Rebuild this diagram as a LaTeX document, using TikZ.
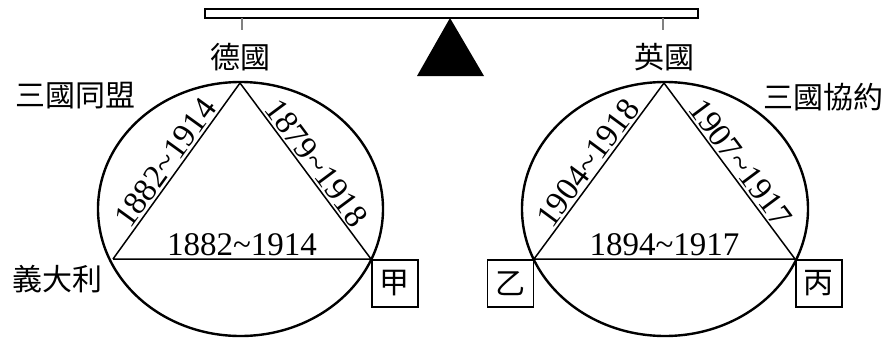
\documentclass[tikz,border=0pt]{standalone}
\usepackage{fontspec}
\setmainfont{Liberation Serif}
\newfontfamily\cjk{Noto Sans CJK TC}
\usepackage{tikz}
\usetikzlibrary{calc}
\usetikzlibrary{positioning}

\begin{document}
\begin{tikzpicture}[x=0.5pt, y=-0.5pt]
 	  \tikzstyle{ring}=[draw, line width=1.2pt]
 	  \tikzstyle{side}=[draw, line width=0.75pt]
 	  \tikzstyle{yr}=[font=\fontsize{16.5}{16.5}\selectfont, inner sep=1pt]
 	  \tikzstyle{ctry}=[font=\cjk\fontsize{15}{15}\selectfont, inner sep=0pt]
 	  \tikzstyle{tag}=[draw, line width=0.75pt, minimum width=23pt, minimum height=23.5pt, inner sep=0pt, font=\cjk\fontsize{15}{15}\selectfont]
\useasboundingbox (0,0) rectangle (890,338);
% balance
\draw[line width=0.75pt, fill=white] (205,9) rectangle (698,18);
\draw[gray, line width=0.75pt] (242,18) -- (242,30);
\draw[gray, line width=0.75pt] (663,18) -- (663,30);
\fill (450,18) -- (484,76) -- (417,76) -- cycle;
% alliance
\draw[ring] (240.5,209) ellipse [x radius=142.5, y radius=127];
    \coordinate (de) at (240,83);
    \coordinate (it) at (113,259);
    \coordinate (jia) at (371,259);
    \draw[side] (it) -- node[yr, above, sloped] {1882\textasciitilde1914} (de)
                     -- node[yr, above, sloped] {1879\textasciitilde1918} (jia)
                     -- node[yr, above] {1882\textasciitilde1914} (it);
    \node[ctry] (deL) at (240,57) {德國};
    \node[ctry] (itL) at (57,279) {義大利};
    \node[ctry] (sanL) at (76,96) {三國同盟};
    \node[tag, anchor=north west] (jiaL) at (jia) {甲};
% entente
\draw[ring] (665,209) ellipse [x radius=143, y radius=127];
    \coordinate (uk) at (664,83);
    \coordinate (yi) at (534,259);
    \coordinate (bing) at (795,259);
    \draw[side] (yi) -- node[yr, above, sloped] {1904\textasciitilde1918} (uk)
                     -- node[yr, above, sloped] {1907\textasciitilde1917} (bing)
                     -- node[yr, above] {1894\textasciitilde1917} (yi);
    \node[ctry] (ukL) at (664,57) {英國};
    \node[ctry] (xieL) at (823,97) {三國協約};
    \node[tag, anchor=north east] (yiL) at (yi) {乙};
    \node[tag, anchor=north west] (bingL) at (bing) {丙};
   \end{tikzpicture}
\end{document}
